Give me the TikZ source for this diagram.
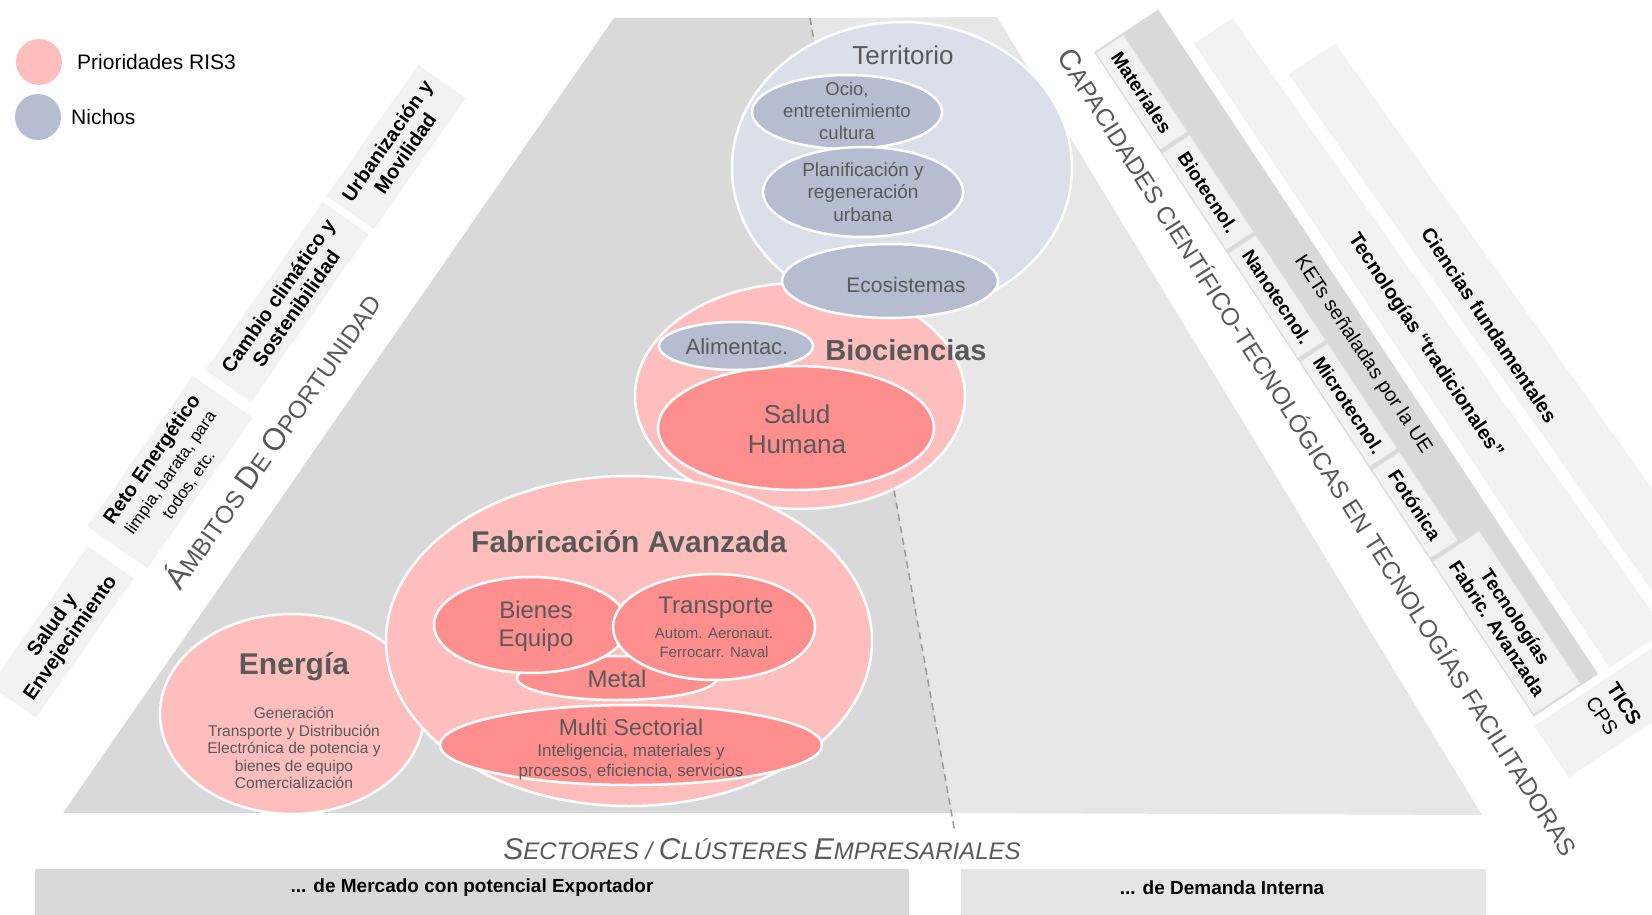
\documentclass[tikz,border=0pt]{standalone}
\usepackage{fontspec}
\setmainfont{Liberation Sans}
\usepackage{tikz}
\usetikzlibrary{shapes.geometric}

\definecolor{ris}{RGB}{255,190,190}
\definecolor{risdark}{RGB}{255,143,143}
\definecolor{nicho}{RGB}{219,223,234}
\definecolor{nichodark}{RGB}{183,189,209}
\definecolor{trapleft}{RGB}{217,217,217}
\definecolor{trapright}{RGB}{231,231,231}
\definecolor{boxgray}{RGB}{242,242,242}
\definecolor{labelgray}{RGB}{89,89,89}

\newcommand{\fsz}[2]{\fontsize{#1}{#2}\selectfont}

\tikzset{
  txt/.style={inner sep=0pt, align=center},
  bubble/.style={ellipse, draw=white, line width=2.5pt, inner sep=0pt},
  risbubble/.style={bubble, fill=ris},
  risinner/.style={bubble, fill=risdark},
  nichobubble/.style={bubble, fill=nicho},
  nichoinner/.style={bubble, fill=nichodark},
  bubbletext/.style={txt, text=labelgray},
  ambitobox/.style={fill=boxgray, rotate=55, inner sep=0pt, align=center,
    font=\bfseries\fsz{20}{22}},
  ketbox/.style={fill=boxgray, draw=black!12, line width=0.8pt, inner sep=0pt,
    align=center, font=\bfseries\fsz{19}{22}},
  legenddot/.style={circle, inner sep=0pt, minimum size=46pt},
}

\begin{document}
\begin{tikzpicture}[x=1pt, y=-1pt]
\useasboundingbox (0, 0) rectangle (1652, 915);
\clip (0, 0) rectangle (1652, 915);

\fill[trapleft] (614, 18) -- (810, 18) -- (952, 813) -- (63, 813) -- cycle;
\fill[trapright] (810, 18) -- (997, 17) -- (1482, 815) -- (952, 813) -- cycle;
\draw[black!40, line width=1.5pt, dash pattern=on 7pt off 5pt] (810, 18) -- (955, 833);

\draw (396, 147) node[ambitobox, minimum width=160pt, minimum height=58pt] (urban) {Urbanización y\\Movilidad};
\draw (287, 302) node[ambitobox, minimum width=205pt, minimum height=56pt] (clima) {Cambio climático y\\Sostenibilidad};
\draw (170, 472) node[ambitobox, minimum width=184pt, minimum height=73pt] (reto)
  {Reto Energético\\{\mdseries\fsz{17}{19}limpia, barata, para}\\{\mdseries\fsz{17}{19}todos, etc.}};
\draw (62, 632) node[ambitobox, minimum width=170pt, minimum height=56pt] (salud) {Salud y\\Envejecimiento};
\draw (271, 440) node[txt, rotate=55, text=labelgray, font=\fsz{24.5}{26}] (ambitos)
  {{\fsz{31}{31}Á}MBITOS {\fsz{31}{31}D}E {\fsz{31}{31}O}PORTUNIDAD};

\begin{scope}[shift={(1094, 52)}, rotate=-56.5, transform shape]
\fill[trapleft] (0, 0) rectangle (797, -77);
\fill[boxgray] (48, -88) -- (798, -90) -- (798, -157) -- (48, -134) -- cycle;
\fill[boxgray] (126, -150) -- (900, -172) -- (900, -232) -- (126, -206) -- cycle;
\fill[boxgray] (805, 5) rectangle (867, -320);
\draw (60, -17.5) node[ketbox, minimum width=116pt, minimum height=33pt] (mat) {Materiales};
\draw (180, -17.5) node[ketbox, minimum width=116pt, minimum height=33pt] (bio) {Biotecnol.};
\draw (305, -17.5) node[ketbox, minimum width=126pt, minimum height=33pt] (nano) {Nanotecnol.};
\draw (435, -17.5) node[ketbox, minimum width=126pt, minimum height=33pt] (micro) {Microtecnol.};
\draw (555, -17.5) node[ketbox, minimum width=106pt, minimum height=33pt] (foto) {Fotónica};
\draw (703.5, -29) node[ketbox, minimum width=183pt, minimum height=56pt] (fabav) {Tecnologías\\Fabric. Avanzada};
\draw (401, -57) node[txt, font=\fsz{20}{22}] (kets) {KETs señaladas por la UE};
\draw (428, -114) node[txt, font=\bfseries\fsz{20}{22}] (trad) {Tecnologías “tradicionales”};
\draw (446, -179) node[txt, font=\bfseries\fsz{20}{22}] (ciencias) {Ciencias fundamentales};
\draw (836, -70) node[inner sep=0pt, align=left, font=\fsz{20}{25}] (tics) {\textbf{TICS}\\CPS};
\end{scope}

\draw (1319, 452) node[txt, rotate=-57.7, text=labelgray, font=\fsz{24.5}{26}] (capac)
  {{\fsz{29}{29}C}APACIDADES CIENTÍFICO-TECNOLÓGICAS EN TECNOLOGÍAS FACILITADORAS};

\draw (902, 168) node[nichobubble, minimum width=340pt, minimum height=292pt] (terr) {};
\draw (847, 112) node[nichoinner, minimum width=190pt, minimum height=74pt] (ocio) {};
\draw (863, 192) node[nichoinner, minimum width=200pt, minimum height=90pt] (plan) {};
\draw (800, 396) node[risbubble, minimum width=330pt, minimum height=226pt] (bioc) {};
\draw (890, 281) node[nichoinner, minimum width=216pt, minimum height=74pt] (eco) {};
\draw (796, 428) node[risinner, minimum width=276pt, minimum height=124pt] (salhum) {};
\draw (736, 346) node[nichoinner, minimum width=154pt, minimum height=48pt] (alim) {};
\draw (292, 714) node[risbubble, minimum width=264pt, minimum height=200pt] (ener) {};
\draw (629, 641) node[risbubble, minimum width=486pt, minimum height=330pt] (fabr) {};
\draw (617, 678) node[risinner, minimum width=200pt, minimum height=44pt] (metal) {};
\draw (531, 625) node[risinner, minimum width=194pt, minimum height=96pt] (bienes) {};
\draw (714, 627) node[risinner, minimum width=202pt, minimum height=106pt] (transp) {};
\draw (631, 745) node[risinner, minimum width=382pt, minimum height=80pt] (multi) {};

\draw (903, 55) node[bubbletext, font=\fsz{26}{28}] (terr-t) {Territorio};
\draw (847, 111) node[bubbletext, font=\fsz{18.5}{22}] (ocio-t) {Ocio,\\entretenimiento\\cultura};
\draw (863, 192) node[bubbletext, font=\fsz{19}{22.5}] (plan-t) {Planificación y\\regeneración\\urbana};
\draw (906, 285) node[bubbletext, font=\fsz{21}{23}] (eco-t) {Ecosistemas};
\draw (906, 350) node[bubbletext, font=\bfseries\fsz{29}{31}] (bioc-t) {Biociencias};
\draw (737, 347) node[bubbletext, font=\fsz{22}{24}] (alim-t) {Alimentac.};
\draw (797, 429) node[bubbletext, font=\fsz{26}{30}] (salhum-t) {Salud\\Humana};
\draw (294, 667) node[bubbletext, font=\bfseries\fsz{30}{32}] (ener-t) {Energía};
\draw (294, 748) node[bubbletext, font=\fsz{15.5}{17.5}] (ener-s) {Generación\\Transporte y Distribución\\Electrónica de potencia y\\bienes de equipo\\Comercialización};
\draw (629, 542) node[bubbletext, font=\bfseries\fsz{30}{32}] (fabr-t) {Fabricación Avanzada};
\draw (536, 626) node[bubbletext, font=\fsz{24}{28}] (bienes-t) {Bienes\\Equipo};
\draw (716, 608) node[bubbletext, font=\fsz{24}{26}] (transp-t) {Transporte};
\draw (714, 643) node[bubbletext, font=\fsz{15}{19}] (transp-s) {Autom. Aeronaut.\\Ferrocarr. Naval};
\draw (617, 679) node[bubbletext, font=\fsz{24}{26}] (metal-t) {Metal};
\draw (631, 727) node[bubbletext, font=\fsz{23}{25}] (multi-t) {Multi Sectorial};
\draw (631, 762) node[bubbletext, font=\fsz{17}{20}] (multi-s) {Inteligencia, materiales y\\procesos, eficiencia, servicios};

\draw (762, 849) node[txt, text=labelgray, font=\itshape\fsz{24}{26}] (sectores)
  {{\fsz{30}{30}S}ECTORES / {\fsz{30}{30}C}LÚSTERES {\fsz{30}{30}E}MPRESARIALES};
\fill[trapleft] (35, 869) rectangle (909, 930);
\fill[black!10] (961, 869) rectangle (1486, 930);
\draw (472, 888) node[txt, font=\bfseries\fsz{19}{21}] (export) {... de Mercado con potencial Exportador};
\draw (1222, 888) node[txt, font=\bfseries\fsz{19}{21}] (interna) {... de Demanda Interna};

\draw (39, 62) node[legenddot, fill=ris] (leg-ris) {};
\draw (77, 62) node[txt, anchor=west, font=\fsz{21}{24}] (leg-ris-t) {Prioridades RIS3};
\draw (38, 117) node[legenddot, fill=nichodark] (leg-nicho) {};
\draw (71, 117) node[txt, anchor=west, font=\fsz{21}{24}] (leg-nicho-t) {Nichos};
\end{tikzpicture}
\end{document}
